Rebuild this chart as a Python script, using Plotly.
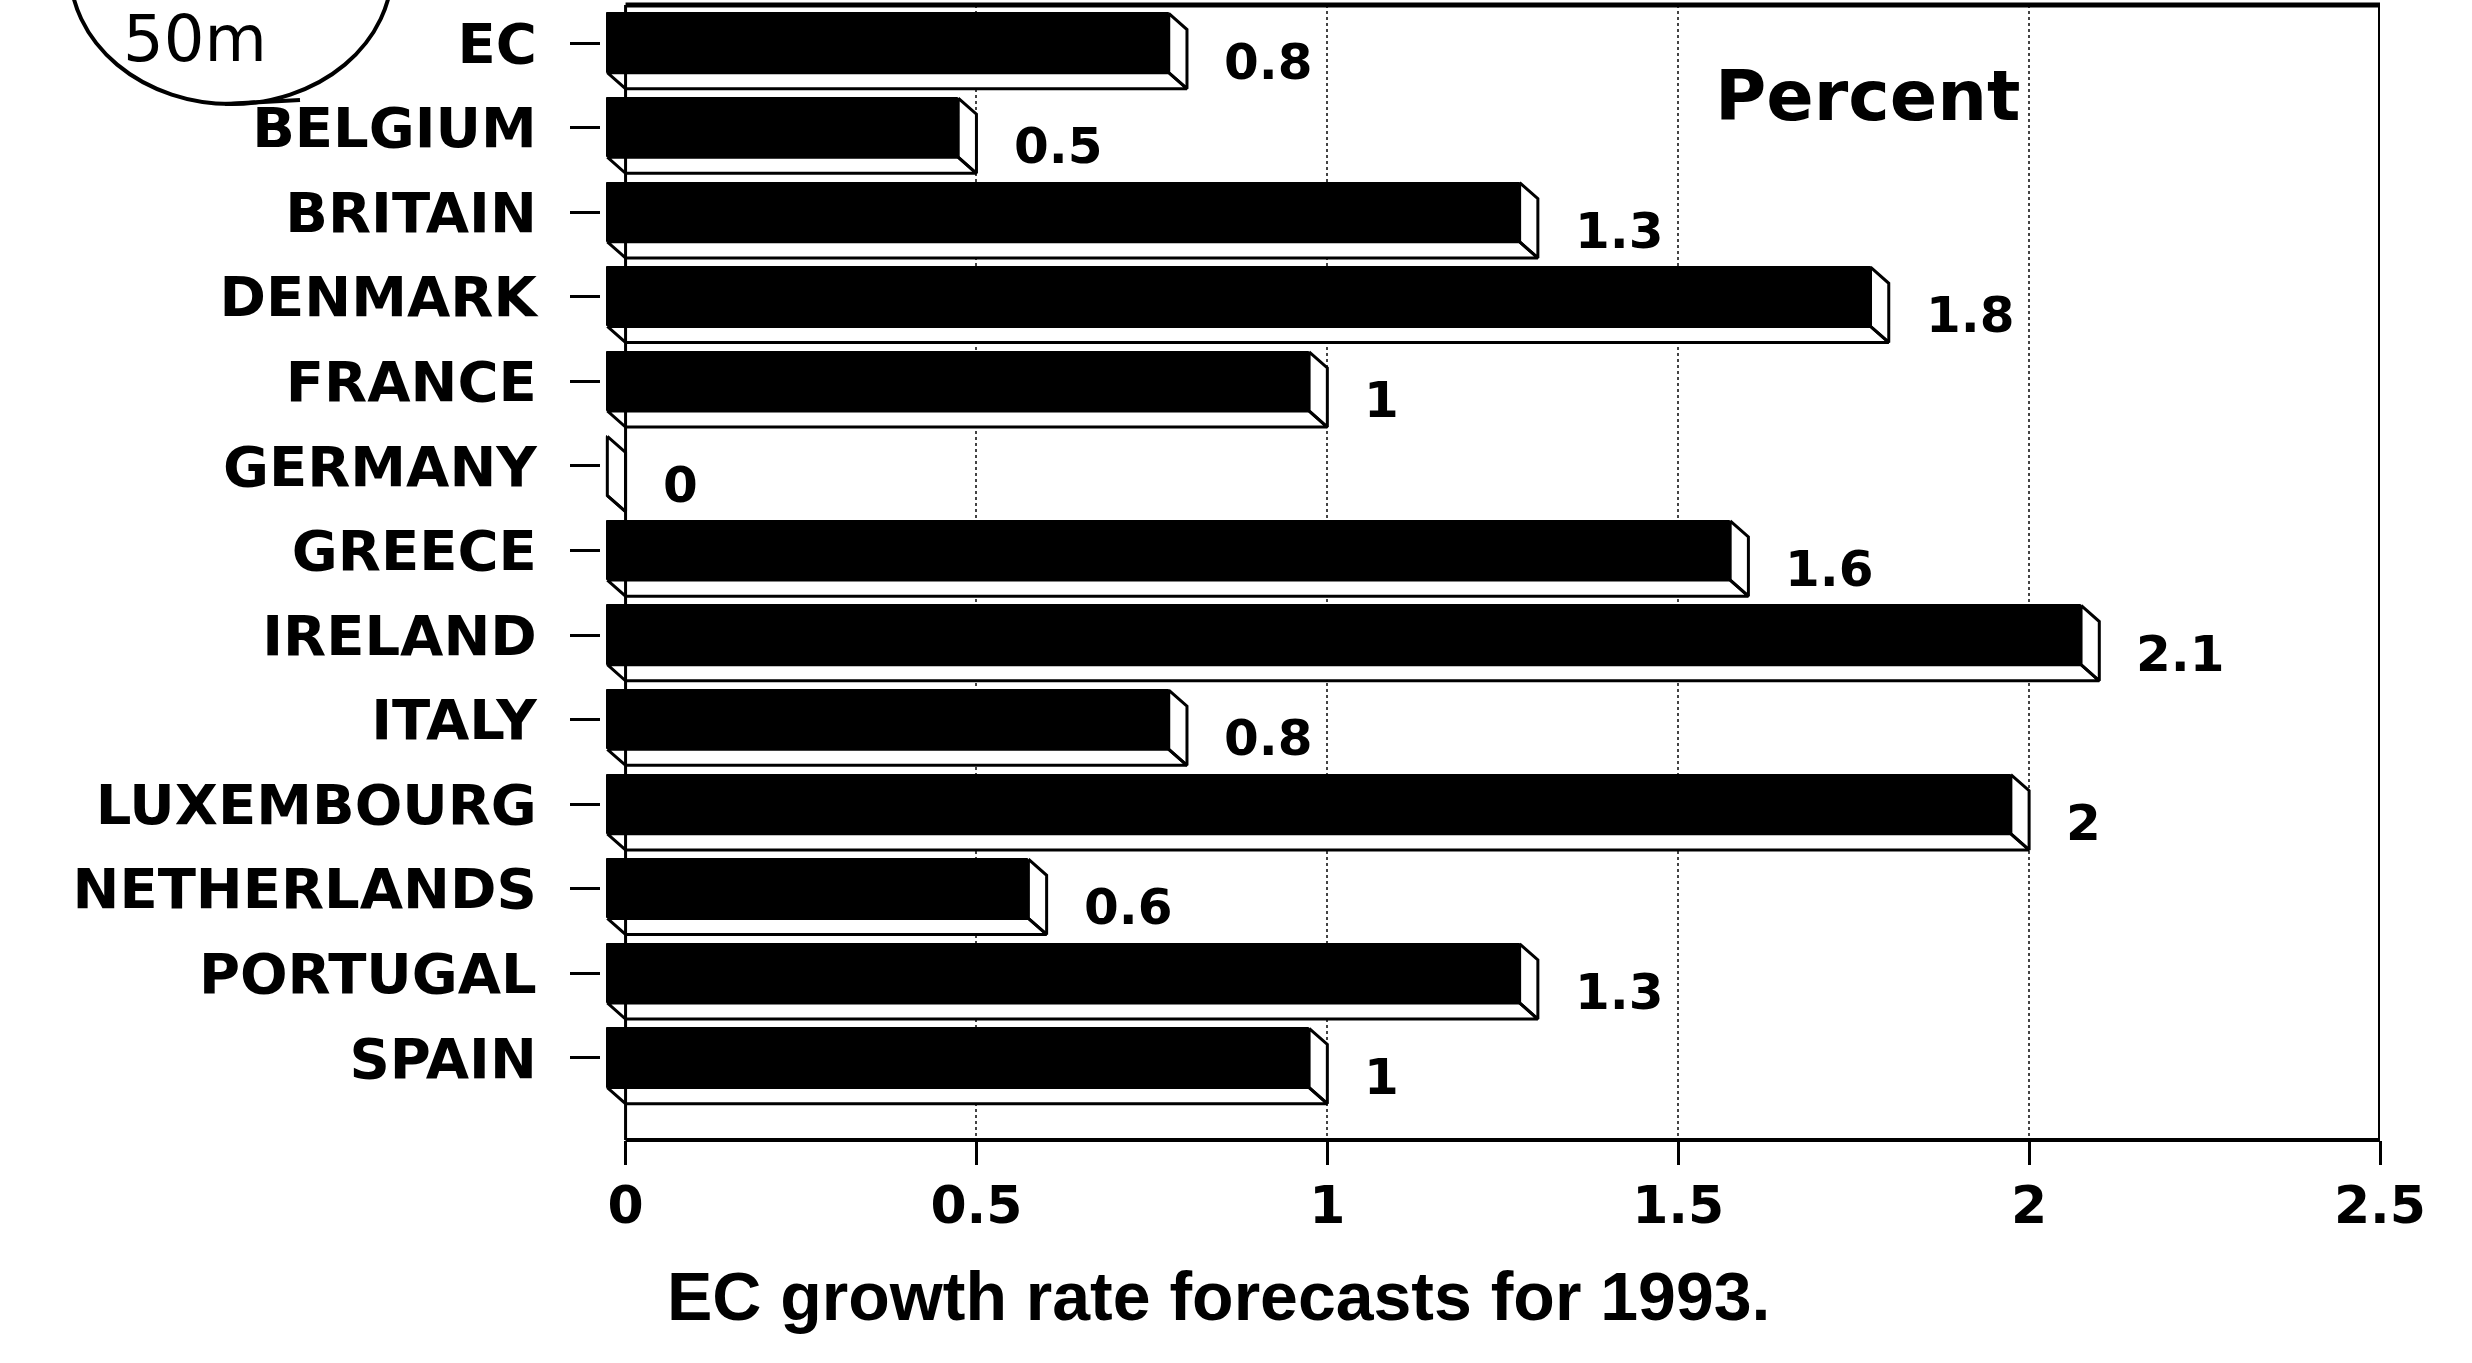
import plotly.graph_objects as go

# EC growth rate forecasts for 1993 (percent)
countries = ["EC", "BELGIUM", "BRITAIN", "DENMARK", "FRANCE", "GERMANY", "GREECE",
             "IRELAND", "ITALY", "LUXEMBOURG", "NETHERLANDS", "PORTUGAL", "SPAIN"]
growth = [0.8, 0.5, 1.3, 1.8, 1, 0, 1.6, 2.1, 0.8, 2, 0.6, 1.3, 1]
value_text = ["0.8", "0.5", "1.3", "1.8", "1", "0", "1.6", "2.1", "0.8", "2", "0.6", "1.3", "1"]
x_ticks = [0, 0.5, 1, 1.5, 2, 2.5]
x_tick_text = ["0", "0.5", "1", "1.5", "2", "2.5"]

W, H = 2472, 1363
ML, MR, MT, MB = 601, 92, 5, 223
PW, PH = W - ML - MR, H - MT - MB

# pseudo-3D geometry: front face is shifted left of the back plane by DX,
# the visible floor/side faces drop by DY
DX = 0.026          # x units
DY = 0.19           # category slots
FACE = 0.70         # front-face height in category slots
Y_TOP, Y_BOT = -0.45, 12.97
X_MIN, X_MAX = -0.035, 2.5

pos = list(range(len(countries)))


def px_to_paper(px, py):
    return (px - ML) / PW, (H - MB - py) / PH


fig = go.Figure()

# floor and right-side faces (white, outlined)
sx, sy = [], []
for i, v in zip(pos, growth):
    t, b = i - FACE / 2, i + FACE / 2
    # floor under the bar
    sx += [-DX, v - DX, v, 0, -DX, None]
    sy += [b, b, b + DY, b + DY, b, None]
    # right-hand end face
    sx += [v - DX, v, v, v - DX, v - DX, None]
    sy += [t, t + DY, b + DY, b, t, None]

fig.add_trace(go.Scatter(
    x=sx, y=sy, mode="lines", fill="toself", fillcolor="white",
    line=dict(color="black", width=3), hoverinfo="skip", showlegend=False,
))

# black front faces
fig.add_trace(go.Bar(
    x=growth, y=pos, base=-DX, orientation="h", width=FACE,
    marker=dict(color="black", line=dict(color="black", width=1)),
    showlegend=False,
))

# value labels beside each bar
for i, v, txt in zip(pos, growth, value_text):
    fig.add_annotation(
        x=v + 0.05, y=i + 0.22, text=txt, showarrow=False,
        xanchor="left", yanchor="middle",
        font=dict(family="DejaVu Sans", size=50, color="black", weight="bold"),
    )

fig.add_annotation(
    x=1.77, y=0.62, text="Percent", showarrow=False,
    xanchor="center", yanchor="middle",
    font=dict(family="DejaVu Sans", size=70, color="black", weight="bold"),
)

# chart frame
frame = dict(color="black", width=4)
fig.add_shape(type="line", xref="x", yref="paper", x0=0, x1=0, y0=0, y1=1, line=dict(color="black", width=3))
fig.add_shape(type="line", xref="x", yref="paper", x0=2.5, x1=2.5, y0=0, y1=1, line=frame)
fig.add_shape(type="line", xref="x", yref="paper", x0=0, x1=2.5, y0=1, y1=1, line=dict(color="black", width=5))
fig.add_shape(type="line", xref="x", yref="paper", x0=0, x1=2.5, y0=0, y1=0, line=frame)

# handwritten circle note in the top-left corner
cx0, cy0 = px_to_paper(70, -165)
cx1, cy1 = px_to_paper(392, 104)
fig.add_shape(type="circle", xref="paper", yref="paper", x0=cx0, x1=cx1, y0=cy1, y1=cy0,
              line=dict(color="black", width=4))
tx0, ty0 = px_to_paper(225, 104)
tx1, ty1 = px_to_paper(300, 100)
fig.add_shape(type="line", xref="paper", yref="paper", x0=tx0, x1=tx1, y0=ty0, y1=ty1,
              line=dict(color="black", width=4))
nx, ny = px_to_paper(195, 0)
fig.add_annotation(xref="paper", yref="paper", x=nx, y=ny, text="50m", showarrow=False,
                   xanchor="center", yanchor="top",
                   font=dict(family="DejaVu Sans", size=64, color="black"))

fig.update_layout(
    width=W, height=H,
    margin=dict(l=ML, r=MR, t=MT, b=MB),
    paper_bgcolor="white", plot_bgcolor="white",
    bargap=0,
    title=dict(
        text="EC growth rate forecasts for 1993.",
        x=0.493, y=0.049, xanchor="center", yanchor="middle",
        font=dict(family="Liberation Sans, Arial", size=68,
                  color="black", weight="bold"),
    ),
    xaxis=dict(
        range=[X_MIN, X_MAX], tickvals=x_ticks, ticktext=x_tick_text,
        showline=False, zeroline=False,
        showgrid=True, gridcolor="#444444", gridwidth=2, griddash="dot",
        ticks="outside", ticklen=24, tickwidth=3, tickcolor="black",
        ticklabelstandoff=-4,
        tickfont=dict(family="DejaVu Sans", size=52, color="black", weight="bold"),
    ),
    yaxis=dict(
        range=[Y_BOT, Y_TOP], tickvals=pos, ticktext=countries,
        showline=False, zeroline=False, showgrid=False,
        ticks="outside", ticklen=30, tickwidth=3, tickcolor="black",
        ticklabelstandoff=22,
        tickfont=dict(family="DejaVu Sans", size=56, color="black", weight="bold"),
    ),
)

fig.write_html("out.html")
